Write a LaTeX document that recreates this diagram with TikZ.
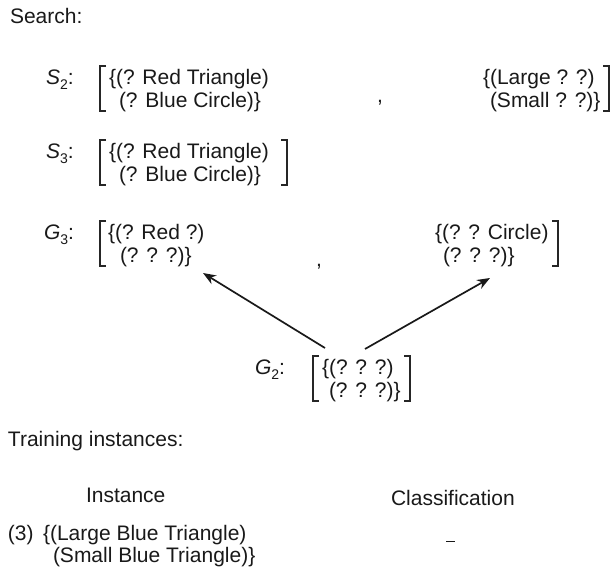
\documentclass[tikz,border=0pt]{standalone}
\usepackage{fontspec}
\setmainfont{Liberation Sans}
\usetikzlibrary{arrows.meta}
\tikzset{
  txt/.style={anchor=base west, inner sep=0pt, outer sep=0pt, font=\fontsize{21}{23}\selectfont, text=black!90},
  brk/.style={line width=1.3pt, draw=black!85},
  arr/.style={line width=1.7pt, draw=black!90, -{Stealth[length=13pt,width=10pt]}},
}
\newcommand{\lab}[2]{{\itshape #1}\raisebox{-0.25em}{\fontsize{14}{14}\selectfont #2}:}
\begin{document}
\begin{tikzpicture}[x=1pt,y=-1pt]
\useasboundingbox (0,0) rectangle (616,573);
% Search
\node[txt] (search) at (10,23) {Search:};
% S2
\node[txt] (s2lab) at (46,84) {\lab{S}{2}};
\node[txt] (s2a) at (109,84) {\{(? Red Triangle)};
\node[txt] (s2b) at (119,107) {(? Blue Circle)\}};
\draw[brk] (106,66) -- (100,66) -- (100,111) -- (106,111);
\node[txt] (c1) at (377,102) {,};
\node[txt] (s2c) at (483,84) {\{(Large ? ?)};
\node[txt] (s2d) at (490,107) {(Small ? ?)\}};
\draw[brk] (603,66) -- (609,66) -- (609,111) -- (603,111);
% S3
\node[txt] (s3lab) at (46,158) {\lab{S}{3}};
\node[txt] (s3a) at (109,158) {\{(? Red Triangle)};
\node[txt] (s3b) at (119,181) {(? Blue Circle)\}};
\draw[brk] (106,140) -- (100,140) -- (100,185) -- (106,185);
\draw[brk] (281,140) -- (287,140) -- (287,185) -- (281,185);
% G3
\node[txt] (g3lab) at (44,239) {\lab{G}{3}};
\node[txt] (g3a) at (108,239) {\{(? Red ?)};
\node[txt] (g3b) at (120,262) {(? ? ?)\}};
\draw[brk] (106,221) -- (100,221) -- (100,266) -- (106,266);
\node[txt] (c2) at (316,266) {,};
\node[txt] (g3c) at (435,239) {\{(? ? Circle)};
\node[txt] (g3d) at (443,262) {(? ? ?)\}};
\draw[brk] (552,221) -- (558,221) -- (558,266) -- (552,266);
% G2
\node[txt] (g2lab) at (255,374) {\lab{G}{2}};
\node[txt] (g2a) at (322,374) {\{(? ? ?)};
\node[txt] (g2b) at (329,397) {(? ? ?)\}};
\draw[brk] (319,356) -- (313,356) -- (313,401) -- (319,401);
\draw[brk] (404,356) -- (410,356) -- (410,401) -- (404,401);
% arrows
\coordinate (t1) at (325,348);
\coordinate (h1) at (203,273);
\coordinate (t2) at (365,349);
\coordinate (h2) at (490,278);
\draw[arr] (t1) -- (h1);
\draw[arr] (t2) -- (h2);
% training
\node[txt] (train) at (8,446) {Training instances:};
\node[txt] (inst) at (86,502) {Instance};
\node[txt] (cls) at (391,505) {Classification};
\node[txt] (i3n) at (8,540) {(3)};
\node[txt] (i3a) at (43,540) {\{(Large Blue Triangle)};
\node[txt] (i3b) at (53,562) {(Small Blue Triangle)\}};
\node[txt] (neg) at (446,544) {\rule[0.1em]{9pt}{1.3pt}};
\end{tikzpicture}
\end{document}
